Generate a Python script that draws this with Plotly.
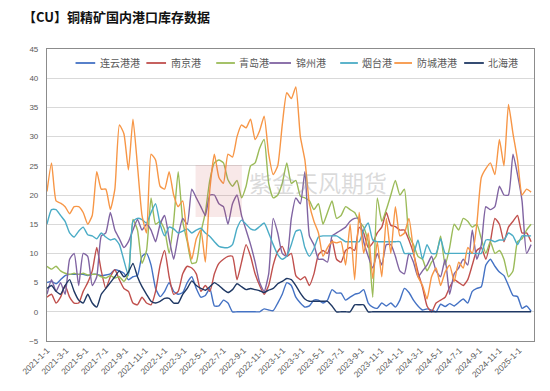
import pandas as pd
import plotly.graph_objects as go

# ---------------- data (bi-weekly readings, 2021-01-01 .. 2025-02-07) ----------------
dates = pd.date_range("2021-01-01", periods=108, freq="14D")

names = ["连云港港", "南京港", "青岛港", "锦州港", "烟台港", "防城港港", "北海港"]

lianyungang = [5, 5.2, 4.8, 5.5, 6.2, 6.4, 6.4, 6.4, 6.4, 6.2, 6.4, 6.4, 6.2, 6.3, 6.5, 7.2, 7, 6.6, 5.5, 6,
               6.2, 9.5, 10, 8, 4, 2.6, 3.5,
               5, 3.5, 3, 3.3, 5, 6, 4, 2.5, 2.8, 4, 1, 1, 2, 1.5, 0, 0, 0, 0, 0, 0,
               0, 0.5, 0.3, 0.2,
               1.5, 3, 5, 4.5, 2.5, 1.5, 0.8, 1, 2, 2, 1.5, 2, 3.8, 3.2, 3.2, 2, 2.5, 3, 3.2, 3.8,
               1.5, 0.8, 0.6, 1.5, 1, 1.5, 0.8, 2,
               4, 3.3, 2, 1, 0.3, 0.5, 0.3, 0, 1.3, 0.9, 1.4, 1, 1.6, 2.2, 1.5, 3.5, 4, 4.3, 8, 9,
               7.8, 6.8, 6.2, 4.5, 2.8, 2.6, 0.6, 1, 0.1]

nanjing = [2.5, 3, 1.5, 2.5, 4.5, 2.5, 1.5, 1.5, 3.5, 5, 7, 11, 7, 4, 6, 7.2, 5.5, 4, 3.5, 1.5,
           1.2, 2.5, 1.5, 1.2, 3.5, 8, 10.5,
           6, 3, 3.5, 6.5, 7.8, 7.5, 6.5, 3.5, 4.5, 3.5, 6.5, 8.3, 9, 9.5, 9.5, 5.5, 8.5, 11.5, 9.5, 6.5,
           4.5, 3, 4.5, 8,
           10.3, 11.2, 9.5, 10, 6.2, 5.5, 6, 4.5, 6.5, 9.8, 10.5, 10, 12.3, 9, 8.5, 10.5, 11, 10.5, 14.5, 13.5,
           11, 11.8, 13.5, 14.5, 17, 14.8, 14.6, 14,
           14, 12.3, 10, 6.8, 4.2, 1, 0, 1.5, 2, 2.5, 4.2, 5.5, 5, 4.5, 5.5, 8, 10.5, 11, 9, 12,
           16, 15, 12, 14.5, 15.5, 16.5, 13.5, 13.5, 12]

qingdao = [7.8, 7.3, 7.8, 7, 6.6, 6.4, 6.6, 6.4, 6.6, 6.3, 6.4, 6.4, 6, 5.8, 6.2, 5.8, 6, 5.2, 6.5, 15.8,
           14, 8.3, 10.5, 19.5, 15, 15.5, 14,
           10, 15.5, 24, 15.5, 12, 8.3, 8.5, 13.5, 17, 22.6, 25.5, 26, 25.5, 22.6, 21.5, 22.5, 19.5, 21.5, 25, 25.5,
           28, 29.5, 22, 19.5,
           20, 22, 25.5, 22, 22.5, 19.8, 19.5, 19, 17.5, 18.5, 15, 17, 19, 16, 16.5, 18, 17.5, 17, 15.5, 14.5,
           12, 2.5, 19.5, 15.5, 17.5, 20, 22.5, 20,
           21, 13, 11.5, 9.5, 9, 7, 8.5, 9.5, 13, 8, 11, 15, 14, 16, 15.5, 14.5, 15, 12.5, 10, 12,
           10, 10.5, 9, 6, 7, 12, 12.5, 14, 15]

jinzhou = [3, 5.5, 3.5, 5, 3, 9, 10, 4.5, 10, 9.5, 4.5, 6, 13, 13.5, 17, 14, 12.5, 11, 12, 14,
           15.8, 14, 15, 14, 12, 15, 16.5,
           12.5, 9, 13, 16, 15, 21, 19.5, 18, 16.5, 20, 20, 18.5, 18, 15, 18.5, 20, 16.5, 14, 11.5, 8.5,
           5, 3.5, 6.5, 16,
           13.5, 10, 9.5, 16, 19.5, 18.5, 24, 13, 11.5, 9, 9, 8.5, 13, 13.5, 14, 14.5, 15.5, 16, 16, 12,
           9.5, 7.5, 10, 8, 11.5, 11.5, 9.5, 7,
           6.5, 10, 8.5, 6, 7, 8, 9.5, 7, 6, 9, 3, 6.5, 7.5, 9, 8, 14, 9, 11.5, 18, 17.5,
           18, 21.5, 20, 20, 27, 23.5, 19, 10, 11.5]

yantai = [15, 17.5, 17.5, 16.5, 15.5, 13.5, 12.8, 13.8, 14.5, 13.2, 13, 12.5, 13.5, 12.8, 12.3, 12.5, 11.5, 8.8, 6.2, 15.5,
          16, 15.8, 15.2, 17, 18.5, 15, 13,
          14.5, 14.2, 13.5, 13.8, 14.2, 13.5, 14, 14.3, 13.5, 12.9, 12, 11.2, 11, 11, 11.5, 14.3, 15.7, 15, 14.2, 14,
          14.6, 15.2, 13.5, 11.5,
          9.8, 9, 9.5, 11.5, 13.8, 14, 11, 9.5, 10.8, 12.8, 13, 13, 13, 13, 12.5, 12, 12, 12, 12, 14,
          15.2, 12.3, 12, 12, 12, 12, 12, 12,
          10, 10, 10, 12.3, 9, 11.5, 10, 10, 12.5, 10, 10, 10, 10, 10, 10, 10, 10, 10, 12.3, 12.3,
          12, 12.3, 12.3, 13.5, 13, 11.5, 13, 13, 13]

fangcheng = [20.6, 25.5, 19, 18.6, 18, 16.8, 18, 18, 17, 15, 16.5, 24, 21, 21, 17.5, 21, 32, 30.5, 24.3, 33,
             25, 16.5, 13.5, 27, 26, 21.5, 21,
             24, 20, 18, 19, 12.5, 9, 12.5, 14, 8.5, 21, 27, 23, 22, 27, 26.5, 30, 32, 31.5, 33, 29.5,
             31, 33.5, 27, 23.5,
             25, 32, 37.5, 36.5, 38.5, 30, 26, 18.5, 15.5, 13.5, 9.5, 11, 12, 11.8, 12, 8, 15, 5.5, 17, 10,
             13.5, 5.7, 12, 6, 16, 10, 18, 13,
             13.5, 16, 10.5, 6, 4.5, 2.2, 6, 7.5, 4.5, 6.8, 8, 5.2, 8.5, 7.5, 11, 10, 15, 23, 24.5, 25.5,
             23.5, 29.5, 25, 35.5, 30.5, 26, 20, 21, 20.5]

beihai = [4, 4.5, 3.5, 3, 4.5, 5.5, 3.5, 2, 1.5, 3, 1.5, 0.8, 3, 4, 5, 6, 7, 6, 6.8, 8.3,
          6, 4.3, 3, 1.8, 1.5, 1.8, 2.3,
          2.3, 1.5, 1.5, 3, 4, 5.3, 4.5, 4, 3.7, 4.3, 5, 4.5, 3.8, 3.3, 3.8, 4.8, 4.3, 3.8, 4, 3.8,
          3.6, 3.3, 3.7, 4,
          4.8, 5.2, 5.7, 5.5, 4.5, 3.2, 2.2, 1.8, 1.8, 1.8, 1.8, 1.8, 1, 0, 0, 0, 0, 1.2, 1.2, 1.2,
          0, 0, 0, 0, 0, 0, 0, 0,
          0, 0, 0, 0, 0, 0, 0, 0, 0, 0, 0, 0, 0, 0, 0, 0, 0, 0, 0, 0,
          0, 0, 0, 0, 0, 0, 0, 0, 0]

series = [lianyungang, nanjing, qingdao, jinzhou, yantai, fangcheng, beihai]

x_tick_labels = ["2021-1-1", "2021-3-1", "2021-5-1", "2021-7-1", "2021-9-1", "2021-11-1",
                 "2022-1-1", "2022-3-1", "2022-5-1", "2022-7-1", "2022-9-1", "2022-11-1",
                 "2023-1-1", "2023-3-1", "2023-5-1", "2023-7-1", "2023-9-1", "2023-11-1",
                 "2024-1-1", "2024-3-1", "2024-5-1", "2024-7-1", "2024-9-1", "2024-11-1",
                 "2025-1-1"]

# ---------------- styling ----------------
colors = ["#4472C4", "#C0504D", "#9BBB59", "#8064A2", "#4BACC6", "#F79646", "#1F3864"]

# the page body has an 8px margin, so the figure is drawn 8px smaller and offset
OFF = 8
W, H = 550 - OFF, 391 - OFF
PLOT_L, PLOT_R, PLOT_T, PLOT_B = 39, 534, 49, 341  # plot box in page pixels
PW, PH = PLOT_R - PLOT_L, PLOT_B - PLOT_T


def px_x(p):
    return (p - PLOT_L) / PW


def px_y(p):
    return (PLOT_B - p) / PH


fig = go.Figure()
for name, vals, col in zip(names, series, colors):
    fig.add_trace(go.Scatter(
        x=dates, y=vals, name=name, mode="lines",
        line=dict(color=col, width=1.4, shape="spline", smoothing=0.5),
        showlegend=False,
    ))

# legend drawn Excel-style: short line + label, one row at the top of the plot
leg_line_x = [(68, 88), (140, 160), (211, 230), (265, 287), (337, 355), (392, 410), (463, 483)]
leg_text_x = [91, 163, 232, 290, 357, 413, 485]
leg_y = 63
shapes = []
annotations = []
for (x0, x1), tx, name, col in zip(leg_line_x, leg_text_x, names, colors):
    shapes.append(dict(type="line", xref="paper", yref="paper",
                       x0=px_x(x0), x1=px_x(x1), y0=px_y(leg_y), y1=px_y(leg_y),
                       line=dict(color=col, width=1.8)))
    annotations.append(dict(text=name, xref="paper", yref="paper",
                            x=px_x(tx), y=px_y(leg_y), xanchor="left", yanchor="middle",
                            showarrow=False,
                            font=dict(family="Noto Sans CJK SC", size=10, color="#595959")))

# watermark
shapes.append(dict(type="rect", xref="paper", yref="paper",
                   x0=px_x(190), x1=px_x(237), y0=px_y(217), y1=px_y(165),
                   fillcolor="rgba(200,80,80,0.13)", line=dict(width=0), layer="above"))
annotations.append(dict(text="紫金天风期货", xref="paper", yref="paper",
                        x=px_x(314), y=px_y(182), xanchor="center", yanchor="middle",
                        showarrow=False,
                        font=dict(family="Noto Sans CJK SC", size=23, color="rgba(150,150,150,0.35)")))

# chart title (kept as an annotation well inside the figure so it is not clipped)
annotations.append(dict(text="<b>【CU】铜精矿国内港口库存数据</b>", xref="paper", yref="paper",
                        x=px_x(13), y=px_y(16), xanchor="left", yanchor="middle",
                        showarrow=False,
                        font=dict(family="Noto Sans CJK SC", size=13, color="#111111")))

fig.update_layout(
    width=W, height=H,
    margin=dict(l=PLOT_L - OFF, r=550 - PLOT_R, t=PLOT_T - OFF, b=391 - PLOT_B),
    paper_bgcolor="white", plot_bgcolor="white",
    shapes=shapes, annotations=annotations,
    showlegend=False,
    font=dict(family="Liberation Sans", size=8, color="#595959"),
)

fig.update_xaxes(
    range=["2021-01-01", "2025-02-16"],
    tickmode="array",
    tickvals=pd.to_datetime(x_tick_labels),
    ticktext=x_tick_labels,
    tickangle=-45,
    tickfont=dict(family="Liberation Sans", size=8.5, color="#595959"),
    showgrid=False, zeroline=False,
    showline=True, linecolor="#8c8c8c", linewidth=1.2, mirror=True,
    ticks="",
)
fig.update_yaxes(
    range=[-5, 45], dtick=5, tick0=0,
    tickfont=dict(family="Liberation Sans", size=8, color="#595959"),
    showgrid=True, gridcolor="#d9d9d9", gridwidth=1,
    zeroline=False,
    showline=True, linecolor="#8c8c8c", linewidth=1.2, mirror=True,
    ticks="", ticklabelstandoff=6,
)

fig.write_html("out.html")
